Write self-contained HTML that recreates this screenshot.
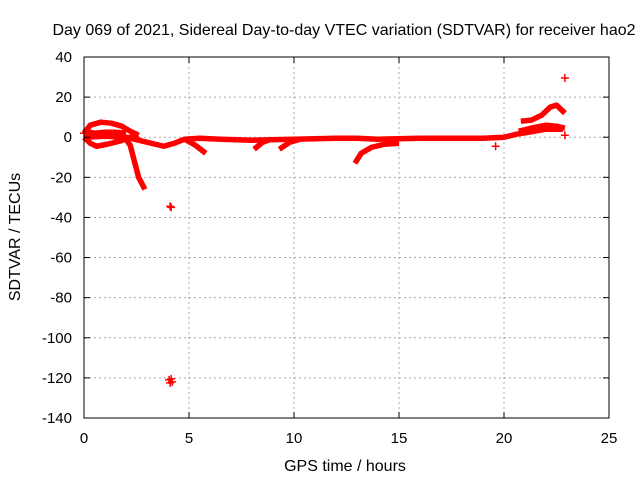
<!DOCTYPE html>
<html><head><meta charset="utf-8"><style>
body{margin:0;background:#fff}
svg{display:block;font-family:"Liberation Sans",sans-serif}
</style></head><body>
<svg id="chart" width="640" height="480" viewBox="0 0 640 480">
<rect width="640" height="480" fill="#fff"/>
<g id="grid"></g>
<g id="marks"></g>
<rect x="84" y="57" width="525" height="361" fill="none" stroke="#000" stroke-width="1"/>
<g id="ticks"></g>
<text x="344" y="35" font-size="16" text-anchor="middle">Day 069 of 2021, Sidereal Day-to-day VTEC variation (SDTVAR) for receiver hao2</text>
<text x="345" y="471" font-size="16" text-anchor="middle">GPS time / hours</text>
<text transform="translate(20,237) rotate(-90)" font-size="16" text-anchor="middle">SDTVAR / TECUs</text>
</svg>
<script>
const xTicks=[0,5,10,15,20,25];
const yTicks=[40,20,0,-20,-40,-60,-80,-100,-120,-140];
const curveMain=[[0,0],[1,0.5],[2,0],[2.6,-1.5],[3.2,-3],[3.8,-4.5],[4.3,-3],[4.8,-1],[5.5,-0.5],[6.5,-1],[8,-1.5],[10,-1],[12,-0.5],[13,-0.5],[14,-1],[16,-0.5],[18,-0.5],[19,-0.5],[20,0],[20.6,1.5],[21.2,2.5],[22,4],[22.8,4]];
const curveLoopTop=[[0,2],[0.3,6],[0.8,7.5],[1.3,7],[1.8,5.5],[2.2,3],[2.6,1]];
const curveLoopMid=[[0,3],[0.5,2],[1,2.5],[1.5,2.5],[2,2]];
const curveLoopLow=[[0,0],[0.3,-3],[0.6,-4.5],[1.1,-3.5],[1.7,-2],[2.2,0],[2.6,1]];
const curveDrop=[[1.9,0.5],[2.2,-4],[2.4,-12],[2.6,-20],[2.9,-26]];
const curveFive=[[4.8,-1],[5.3,-4],[5.8,-8]];
const curveEight=[[8.1,-6],[8.5,-2.5],[8.9,-1]];
const curveNine=[[9.3,-6],[9.8,-2.5],[10.3,-1]];
const curveThirteen=[[12.9,-13],[13.2,-8],[13.7,-5],[14.3,-3.5],[15,-3]];
const curveEndHigh=[[20.8,8],[21.3,8.5],[21.8,11],[22.2,15],[22.5,16],[22.9,12]];
const curveEndLow=[[20.7,3],[21.5,5],[22,6],[22.5,5.5],[22.9,4.5]];
const isolatedPts=[[4.1,-34.5],[4.15,-35],[4.05,-121],[4.15,-120.5],[4.2,-122],[4.1,-122.5],[22.9,29.5],[19.6,-4.5],[0,2],[22.9,1]];
const X=v=>84+v*21, Y=v=>57+(40-v)*361/180;
const NS="http://www.w3.org/2000/svg";
const grid=document.getElementById('grid'),ticks=document.getElementById('ticks'),marks=document.getElementById('marks');
function mk(t,a,p){const e=document.createElementNS(NS,t);for(const k in a)e.setAttribute(k,a[k]);p.appendChild(e);return e;}
xTicks.forEach(v=>{
 if(v>0&&v<25){const g=mk('line',{x1:X(v),x2:X(v),y1:57,y2:418,stroke:'#aaa','stroke-dasharray':'2,3'},grid);
 
 }
 mk('line',{x1:X(v),x2:X(v),y1:418,y2:412,stroke:'#000'},ticks);
 mk('line',{x1:X(v),x2:X(v),y1:57,y2:63,stroke:'#000'},ticks);
 const t=mk('text',{x:X(v),y:443,'font-size':15,'text-anchor':'middle'},ticks);t.textContent=v;
 
 
});
yTicks.forEach(v=>{
 if(v<40&&v>-140){const g=mk('line',{x1:84,x2:609,y1:Y(v),y2:Y(v),stroke:'#aaa','stroke-dasharray':'2,3'},grid);
 
 }
 mk('line',{x1:84,x2:90,y1:Y(v),y2:Y(v),stroke:'#000'},ticks);
 mk('line',{x1:609,x2:603,y1:Y(v),y2:Y(v),stroke:'#000'},ticks);
 const t=mk('text',{x:72,y:Y(v)+5,'font-size':15,'text-anchor':'end'},ticks);t.textContent=v;
 
 
});
[curveMain,curveLoopTop,curveLoopMid,curveLoopLow,curveDrop,curveFive,curveEight,curveNine,curveThirteen,curveEndHigh,curveEndLow].forEach(c=>{
 const p=mk('polyline',{points:c.map(d=>X(d[0])+','+Y(d[1])).join(' '),fill:'none',stroke:'#f00','stroke-width':5.5,'stroke-linejoin':'round'},marks);
 
 
});
isolatedPts.forEach(d=>{
 const p=mk('path',{d:`M${X(d[0])-4},${Y(d[1])}h8M${X(d[0])},${Y(d[1])-4}v8`,stroke:'#f00','stroke-width':1.5},marks);
 
 
});
</script>
</body></html>
